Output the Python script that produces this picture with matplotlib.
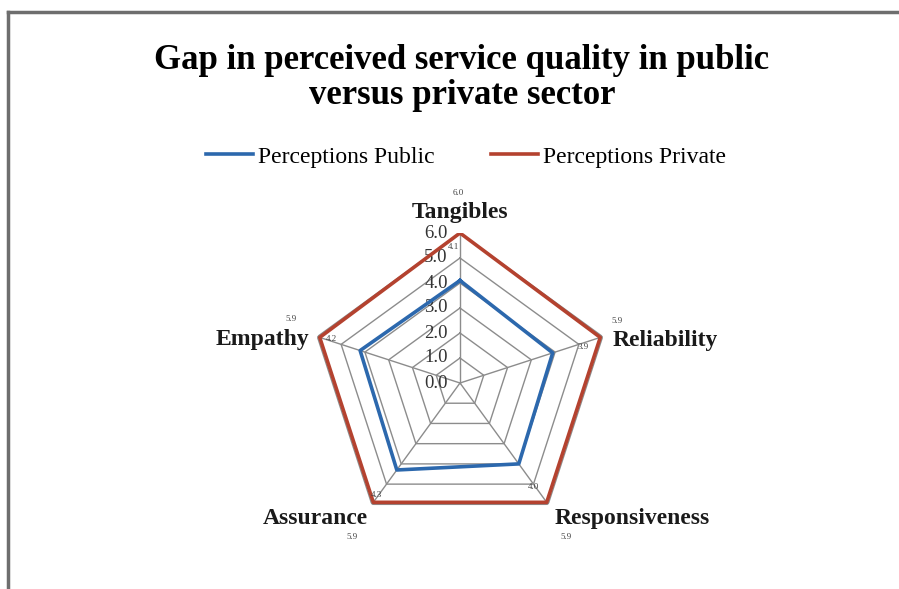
import numpy as np
import matplotlib
matplotlib.use("Agg")
import matplotlib.pyplot as plt
from matplotlib.lines import Line2D

# service quality dimensions and mean perception scores
dimensions = ["Tangibles", "Reliability", "Responsiveness", "Assurance", "Empathy"]
public = [4.1, 3.9, 4.0, 4.3, 4.2]
private = [6.0, 5.9, 5.9, 5.9, 5.9]
rings = [0.0, 1.0, 2.0, 3.0, 4.0, 5.0, 6.0]

plt.rcParams["font.family"] = ["Liberation Serif", "DejaVu Serif"]

W, H = 899, 589
fig = plt.figure(figsize=(W / 100, H / 100), dpi=100)
fig.patch.set_facecolor("white")

# border of the chart area (left and top edges)
fig.add_artist(Line2D([8 / W, 8 / W], [0, 1 - 12 / H], transform=fig.transFigure,
                      color="#6e6e6e", lw=2.5))
fig.add_artist(Line2D([8 / W, 1], [1 - 12 / H, 1 - 12 / H], transform=fig.transFigure,
                      color="#6e6e6e", lw=2.5))

fig.text(462 / W, 1 - 78 / H, "Gap in perceived service quality in public\nversus private sector",
         ha="center", va="center", fontsize=25, fontweight="bold", linespacing=1.08)

ax = fig.add_axes([310 / W, 56 / H, 300 / W, 300 / H], projection="polar")
ax.set_theta_offset(np.pi / 2)
ax.set_theta_direction(-1)
ax.set_ylim(0, 6)
ax.grid(False)
ax.spines["polar"].set_visible(False)
ax.set_xticks([])
ax.set_yticks([])
ax.patch.set_alpha(0)

n = len(dimensions)
angles = np.linspace(0, 2 * np.pi, n, endpoint=False)
closed = np.append(angles, angles[0])

def px(dx, dy):
    # pixel offsets -> points for annotate
    return (dx * 0.72, dy * 0.72)

# pentagon gridlines and spokes
for r in rings[1:]:
    ax.plot(closed, [r] * (n + 1), color="#8c8c8c", lw=1.0, zorder=1)
for a in angles:
    ax.plot([a, a], [0, rings[-1]], color="#8c8c8c", lw=1.0, zorder=1)

# ring values along the top spoke
for r in rings:
    ax.annotate(f"{r:.1f}", (0, r), xytext=px(-24, 0), textcoords="offset points",
                ha="center", va="center", fontsize=13.5, color="#333333")

ax.plot(closed, public + public[:1], color="#2c68ad", lw=2.6, zorder=3)
ax.plot(closed, private + private[:1], color="#b4422f", lw=2.6, zorder=3)

# dimension names
label_pos = [(px(0, 10), "center", "bottom"), (px(10, -4), "left", "center"),
             (px(6, -4), "left", "top"), (px(-4, -4), "right", "top"),
             (px(-8, -3), "right", "center")]
for a, name, (off, ha, va) in zip(angles, dimensions, label_pos):
    ax.annotate(name, (a, rings[-1]), xytext=off, textcoords="offset points",
                ha=ha, va=va, fontsize=17, fontweight="bold", color="#1a1a1a",
                annotation_clip=False)

# small value labels
pub_off = [px(-7, -14), px(-20, -10), px(-15, 17), px(5, 9), px(14, -2)]
priv_off = [px(-2, 40), px(14, 16), px(18, -33), px(-20, -33), px(-26, 18)]
for a, pv, qv, po, qo in zip(angles, public, private, pub_off, priv_off):
    ax.annotate(f"{pv:.1f}", (a, rings[-1]), xytext=po, textcoords="offset points",
                ha="center", va="center", fontsize=6.5, color="#444444", annotation_clip=False)
    ax.annotate(f"{qv:.1f}", (a, rings[-1]), xytext=qo, textcoords="offset points",
                ha="center", va="center", fontsize=6.5, color="#444444", annotation_clip=False)

handles = [Line2D([], [], color="#2c68ad", lw=2.6), Line2D([], [], color="#b4422f", lw=2.6)]
fig.legend(handles, ["Perceptions Public", "Perceptions Private"], loc="center",
           bbox_to_anchor=(466 / W, 1 - 157 / H), ncol=2, frameon=False, fontsize=17,
           handlelength=2.0, handletextpad=0.2, columnspacing=2.4)

fig.savefig("out.png", dpi=100, facecolor="white")
